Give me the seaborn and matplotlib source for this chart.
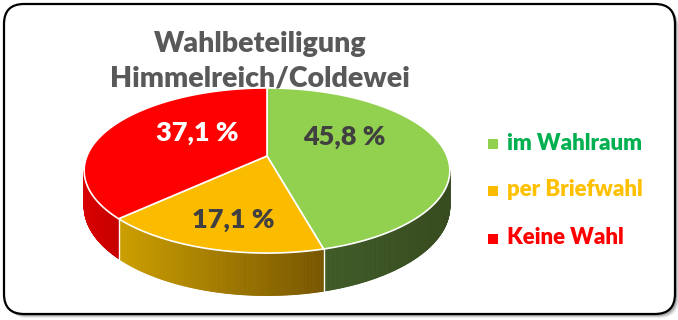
import numpy as np
import matplotlib
matplotlib.use("Agg")
import matplotlib.pyplot as plt
import seaborn as sns
from matplotlib.patches import Polygon, FancyBboxPatch
from matplotlib.collections import PolyCollection
from matplotlib.colors import to_rgb

# --- data -------------------------------------------------------------
categories = ["im Wahlraum", "per Briefwahl", "Keine Wahl"]
shares = [45.8, 17.1, 37.1]
top_colors = ["#92d050", "#fbbc00", "#ff0000"]
wall_colors = [("#3f5a26", "#374c20"), ("#cc9f00", "#775500"), ("#d80000", "#c60000")]
legend_text_colors = ["#00b050", "#ffc000", "#ff0000"]
value_label_colors = ["#404040", "#404040", "#ffffff"]
title_lines = ["Wahlbeteiligung", "Himmelreich/Coldewei"]

# --- style ------------------------------------------------------------
sns.set_theme(style="white")
plt.rcParams["font.family"] = ["Lato", "DejaVu Sans"]
WEIGHT = "heavy"

W, H = 678, 320
fig = plt.figure(figsize=(W / 100, H / 100), dpi=100)
ax = fig.add_axes([0, 0, 1, 1])
ax.set_xlim(0, W)
ax.set_ylim(H, 0)
ax.axis("off")

# rounded frame with a soft drop shadow
box = dict(boxstyle="round,pad=0,rounding_size=20")
for off, a in [(4, 0.08), (3, 0.12), (2, 0.18)]:
    ax.add_patch(FancyBboxPatch((4 + off, 4 + off), 671, 310, fc=(0, 0, 0, a),
                                ec="none", zorder=0, **box))
ax.add_patch(FancyBboxPatch((4, 4), 671, 310, fc="white", ec="black", lw=1.6,
                            zorder=1, **box))

# --- tilted pie in perspective ----------------------------------------
cx, cy = 267.0, 156.0     # projected centre of the top face
rx, ry = 180.0, 80.0      # radii of the tilted disc
dist = 5.69               # camera distance (in radii)
thick = 35.0              # height of the pie body


def project(phi_deg, drop=0.0):
    p = np.radians(phi_deg)
    X = np.cos(p)
    Z = -np.sin(p)
    s = dist / (dist - Z)
    return cx + rx * X * s, cy + ry * Z * s + drop * s


total = float(sum(shares))
edges = 90.0 - 360.0 * np.concatenate([[0.0], np.cumsum(shares)]) / total

# silhouette of the body: extreme left / right of the rim
scan = np.linspace(-215, 35, 5001)
sx, _ = project(scan)
phi_right = scan[np.argmax(sx)]
phi_left = scan[np.argmin(sx)]

# outer walls, shaded strip by strip
for i in range(len(shares)):
    t1, t2 = edges[i], edges[i + 1]
    hi = min(t1, phi_right)
    lo = max(t2, phi_left)
    if hi <= lo:
        continue
    ph = np.linspace(hi, lo, 160)
    xt, yt = project(ph)
    xb, yb = project(ph, thick)
    c_left = np.array(to_rgb(wall_colors[i][0]))
    c_right = np.array(to_rgb(wall_colors[i][1]))
    xmin, xmax = xt.min(), xt.max()
    quads, cols = [], []
    for k in range(len(ph) - 1):
        quads.append([(xt[k], yt[k]), (xt[k + 1], yt[k + 1]),
                      (xb[k + 1], yb[k + 1]), (xb[k], yb[k])])
        f = ((xt[k] + xt[k + 1]) / 2 - xmin) / max(xmax - xmin, 1e-9)
        cols.append(c_left * (1 - f) + c_right * f)
    ax.add_collection(PolyCollection(quads, facecolors=cols, edgecolors=cols,
                                     linewidths=0.6, zorder=2))

# seams between slices on the wall
for b in edges[1:-1]:
    if phi_left <= b <= phi_right:
        x0, y0 = project(b)
        x1, y1 = project(b, thick)
        ax.plot([x0, x1], [y0, y1], color="white", lw=1.0, zorder=2.5)

# top face
for i in range(len(shares)):
    ph = np.linspace(edges[i], edges[i + 1], 200)
    xa, ya = project(ph)
    pts = np.vstack([[cx, cy], np.column_stack([xa, ya])])
    ax.add_patch(Polygon(pts, closed=True, fc=top_colors[i], ec="white",
                         lw=1.2, joinstyle="round", zorder=3))

# value labels
label_pos = [(344, 137), (233, 220), (197, 133)]
for v, (lx, ly), c in zip(shares, label_pos, value_label_colors):
    txt = f"{v:.1f}".replace(".", ",") + " %"
    ax.text(lx, ly, txt, ha="center", va="center", fontsize=19.5,
            fontweight=WEIGHT, color=c, zorder=5)

# title
ax.text(260, 44, title_lines[0], ha="center", va="center", fontsize=20.5,
        fontweight=WEIGHT, color="#595959", zorder=6)
ax.text(260, 79, title_lines[1], ha="center", va="center", fontsize=20.5,
        fontweight=WEIGHT, color="#595959", zorder=6)

# legend
leg_y = [143, 190, 238]
for name, ly, mc, tc in zip(categories, leg_y, top_colors, legend_text_colors):
    ax.scatter([493], [ly + 1], marker="s", s=42, color=mc, linewidths=0, zorder=5)
    ax.text(507, ly, name, ha="left", va="center", fontsize=16,
            fontweight=WEIGHT, color=tc, zorder=5)

fig.savefig("out.png", dpi=100)
